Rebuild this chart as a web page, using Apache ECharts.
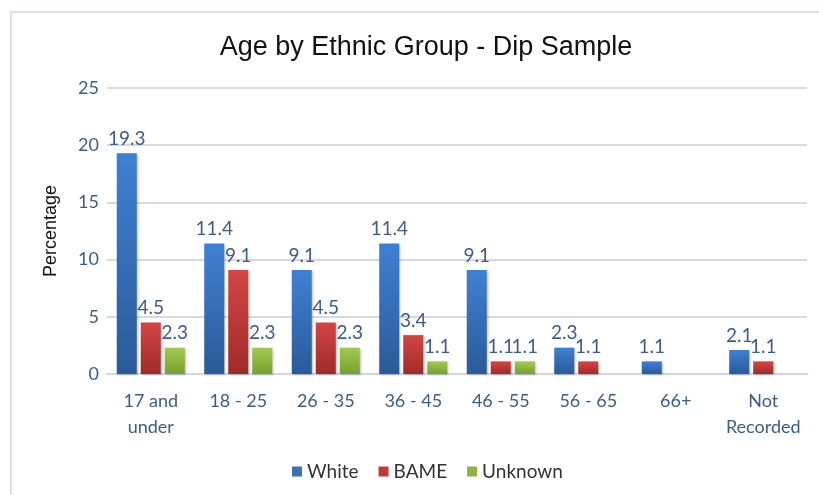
<!DOCTYPE html>
<html>
<head>
<meta charset="utf-8">
<script src="https://cdn.jsdelivr.net/npm/echarts@6/dist/echarts.min.js"></script>
<style>
  html, body { margin: 0; padding: 0; background: #fff; }
  #frame { position: absolute; left: 10px; top: 11px; width: 820px; height: 500px;
           border-left: 2px solid #d4e2f4; border-top: 2px solid #d4e2f4; }
  #chart { position: absolute; left: 0; top: 0; width: 819px; height: 495px; }
</style>
</head>
<body>
<div id="frame"></div>
<div id="chart"></div>
<script>
// Age bands and the share (%) of each ethnic group in each band
const categories = ['17 and\nunder', '18 - 25', '26 - 35', '36 - 45', '46 - 55', '56 - 65', '66+', 'Not\nRecorded'];
const white   = [19.3, 11.4, 9.1, 11.4, 9.1, 2.3, 1.1, 2.1];
const bame    = [4.5, 9.1, 4.5, 3.4, 1.1, 1.1, null, 1.1];
const unknown = [2.3, 2.3, 2.3, 1.1, 1.1, null, null, null];
const yTicks = { min: 0, max: 25, step: 5 };

const labelColor = '#3a5d8f';
const uiFont = 'Lato, "Open Sans", sans-serif';

function grad(top, bottom) {
  return new echarts.graphic.LinearGradient(0, 0, 0, 1, [
    { offset: 0, color: top },
    { offset: 1, color: bottom }
  ]);
}

function series(name, data, top, bottom, legendColor) {
  return {
    name: name,
    type: 'bar',
    data: data,
    barWidth: 20,
    barGap: '20%',
    itemStyle: {
      color: grad(top, bottom),
      shadowColor: 'rgba(0,0,0,0.25)',
      shadowBlur: 2,
      shadowOffsetX: 1,
      shadowOffsetY: 1
    },
    label: {
      show: true,
      position: 'top',
      distance: 5,
      color: labelColor,
      fontFamily: uiFont,
      fontSize: 19
    },
    legendColor: legendColor
  };
}

const chart = echarts.init(document.getElementById('chart'), null, { renderer: 'canvas' });
const seriesList = [
  series('White', white, '#3f80d4', '#2a5a98', '#3a72bd'),
  series('BAME', bame, '#d34644', '#a02a28', '#c03a38'),
  series('Unknown', unknown, '#a3c94f', '#76a030', '#8db540')
];

chart.setOption({
  backgroundColor: 'transparent',
  animation: false,
  title: {
    text: 'Age by Ethnic Group - Dip Sample',
    left: 421,
    top: 29,
    textAlign: 'center',
    textStyle: {
      fontFamily: '"Liberation Sans", Arial, sans-serif',
      fontWeight: 'normal',
      fontSize: 27,
      color: '#111'
    }
  },
  legend: {
    bottom: 9,
    left: 287,
    itemWidth: 10,
    itemHeight: 10,
    itemGap: 20,
    icon: 'rect',
    textStyle: { fontFamily: uiFont, fontSize: 19, color: '#333' },
    data: seriesList.map(s => ({ name: s.name, itemStyle: { color: s.legendColor } }))
  },
  grid: { left: 107, right: 12, top: 88, bottom: 121 },
  xAxis: {
    type: 'category',
    data: categories,
    axisTick: { show: false },
    axisLine: { lineStyle: { color: '#c9d9ee', width: 2 } },
    axisLabel: {
      color: labelColor,
      fontFamily: uiFont,
      fontSize: 18,
      lineHeight: 26,
      margin: 14,
      interval: 0
    }
  },
  yAxis: {
    type: 'value',
    min: yTicks.min,
    max: yTicks.max,
    interval: yTicks.step,
    name: 'Percentage',
    nameLocation: 'middle',
    nameGap: 47,
    nameRotate: 90,
    nameTextStyle: { fontFamily: '"Liberation Sans", Arial, sans-serif', fontSize: 18, color: '#111' },
    axisLine: { show: false },
    axisTick: { show: false },
    axisLabel: { color: labelColor, fontFamily: uiFont, fontSize: 18, margin: 8 },
    splitLine: { lineStyle: { color: '#d9d9d9', width: 2 } }
  },
  series: seriesList.map(s => {
    const o = Object.assign({}, s);
    delete o.legendColor;
    return o;
  })
});
</script>
</body>
</html>
